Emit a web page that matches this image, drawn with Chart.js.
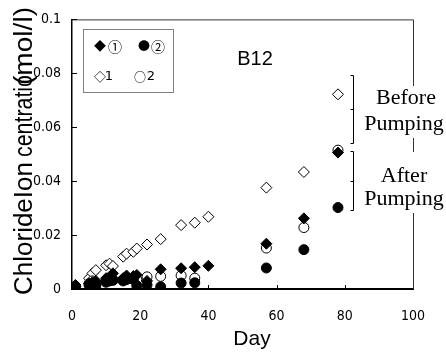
<!DOCTYPE html>
<html><head><meta charset="utf-8">
<script src="https://cdn.jsdelivr.net/npm/chart.js@4/dist/chart.umd.min.js"></script>
<style>html,body{margin:0;padding:0;background:#fff}#wrap{width:446px;height:356px}</style>
</head><body><div id="wrap"><canvas id="c" width="446" height="356"></canvas></div>
<script>
// ---- data ----
const daysFilledDiamond = [1,5,6,7,10,11,12,15,16,18,19,22,26,32,36,40,57,68,78];
const valsFilledDiamond = [0.0015,0.002,0.0025,0.003,0.004,0.0045,0.0058,0.004,0.005,0.0048,0.0052,0.003,0.0073,0.0077,0.0081,0.0086,0.0168,0.0262,0.0506];
const daysFilledCircle = [1,5,6,7,10,11,12,15,16,18,19,22,26,32,36,57,68,78];
const valsFilledCircle = [0.0008,0.0015,0.0018,0.0012,0.0025,0.003,0.0032,0.003,0.0035,0.0035,0.0012,0.0015,0.0008,0.0022,0.0023,0.0078,0.0146,0.0302];
const daysOpenCircle = [1,5,6,7,10,11,12,15,16,18,19,22,26,32,36,57,68,78];
const valsOpenCircle = [0.001,0.002,0.003,0.002,0.003,0.0035,0.0035,0.0035,0.004,0.004,0.0035,0.0045,0.0047,0.005,0.004,0.0152,0.0228,0.0515];
const daysOpenDiamond = [1,5,6,7,10,11,12,15,16,18,19,22,26,32,36,40,57,68,78];
const valsOpenDiamond = [0.001,0.004,0.0058,0.007,0.0088,0.0094,0.0085,0.012,0.0131,0.0138,0.015,0.0165,0.0185,0.0237,0.0246,0.0268,0.0376,0.0434,0.0722];
const xTickValues = [0,20,40,60,80,100];
const xTickLabels = ['0','20','40','60','80','100'];
const yTickValues = [0,0.02,0.04,0.06,0.08,0.1];
const yTickLabels = ['0','0.02','0.04','0.06','0.08','0.1'];
const chartTitle = 'B12';
const xTitle = 'Day';
const yTitleParts = ['ChlorideIon', 'centratio', '(mol/l)'];
const legendItems = [['◆','①'],['●','②'],['◇','1'],['○','2']];
const noteBefore = ['Before','Pumping'];
const noteAfter = ['After','Pumping'];

const pts = (d, v) => d.map((x, i) => ({x: x, y: v[i]}));
const TICKFONT = "'Liberation Sans Narrow', 'DejaVu Sans Condensed', 'Liberation Sans', sans-serif";

const extras = {
  id: 'extras',
  beforeDatasetsDraw(chart) {
    const {ctx, chartArea: a} = chart;
    const xs = chart.scales.x, ys = chart.scales.y;
    ctx.save();
    ctx.strokeStyle = '#333'; ctx.lineWidth = 1;
    ctx.beginPath();
    ctx.moveTo(a.left, a.top + 0.5); ctx.lineTo(a.right + 0.5, a.top + 0.5); ctx.lineTo(a.right + 0.5, a.bottom);
    ctx.stroke();
    ctx.strokeStyle = '#000'; ctx.lineWidth = 1;
    ctx.beginPath();
    yTickValues.forEach(v => { if (v === 0) return; const y = Math.round(ys.getPixelForValue(v)) + 0.5; ctx.moveTo(a.left, y); ctx.lineTo(a.left + 5, y); });
    xTickValues.forEach(v => { if (v === 0 || v === 100) return; const x = Math.round(xs.getPixelForValue(v)) + 0.5; ctx.moveTo(x, a.bottom); ctx.lineTo(x, a.bottom - 4); });
    ctx.stroke();
    ctx.restore();
  },
  afterDraw(chart) {
    const {ctx} = chart;
    ctx.save();
    ctx.fillStyle = '#fff';
    ctx.fillRect(358, 86, 88, 52);
    ctx.fillRect(358, 152, 88, 61);
    ctx.strokeStyle = '#000'; ctx.lineWidth = 1;
    const bracket = (y0, y1) => {
      const x = 353.5, m = (y0 + y1) / 2;
      ctx.beginPath();
      ctx.moveTo(x - 3, y0 + 0.5); ctx.lineTo(x, y0 + 0.5); ctx.lineTo(x, y1 + 0.5); ctx.lineTo(x - 3, y1 + 0.5);
      ctx.moveTo(x - 3, Math.round(m) + 0.5); ctx.lineTo(x, Math.round(m) + 0.5);
      ctx.stroke();
    };
    bracket(75, 143);
    bracket(151, 210);
    ctx.fillStyle = '#000';
    ctx.font = "22px 'Liberation Serif', 'DejaVu Serif', serif";
    ctx.textAlign = 'center'; ctx.textBaseline = 'alphabetic';
    ctx.fillText(noteBefore[0], 406, 104);
    ctx.fillText(noteBefore[1], 404, 130);
    ctx.fillText(noteAfter[0], 404, 182);
    ctx.fillText(noteAfter[1], 404, 205);
    ctx.strokeStyle = '#808080'; ctx.lineWidth = 1;
    ctx.strokeRect(83.5, 29.5, 90, 63);
    ctx.fillStyle = '#000';
    ctx.textBaseline = 'middle';
    const sym = "12px 'Noto Sans CJK JP', 'DejaVu Sans', sans-serif";
    const pos = [[100, 46.5, 115], [144, 46.5, 158], [100, 77, 109], [140, 77, 151]];
    legendItems.forEach((it, i) => {
      const p = pos[i];
      ctx.font = sym; ctx.textAlign = 'center';
      ctx.fillText(it[0], p[0], p[1]);
      ctx.font = i < 2 ? "14px 'Noto Sans CJK JP', 'DejaVu Sans', sans-serif" : "13px 'DejaVu Sans', sans-serif";
      ctx.fillText(it[1], p[2], p[1]);
    });
    ctx.font = "20px 'Liberation Sans', Arial, sans-serif";
    ctx.textAlign = 'center'; ctx.textBaseline = 'alphabetic';
    ctx.fillText(chartTitle, 255, 65);
    ctx.font = "21px 'Liberation Sans', Arial, sans-serif";
    ctx.fillText(xTitle, 252, 345);
    ctx.translate(32, 295);
    ctx.rotate(-Math.PI / 2);
    ctx.font = "26px 'Liberation Sans', Arial, sans-serif";
    ctx.textAlign = 'left';
    ctx.fillText(yTitleParts[0], 0, 0);
    const fitText = (t, start, len) => {
      const w = ctx.measureText(t).width;
      ctx.save(); ctx.translate(start, 0); ctx.scale(len / w, 1); ctx.fillText(t, 0, 0); ctx.restore();
    };
    fitText(yTitleParts[1], 138, 82);
    fitText(yTitleParts[2], 210, 78);
    ctx.restore();
  }
};

new Chart(document.getElementById('c'), {
  type: 'scatter',
  data: {
    datasets: [
      {label: '①', data: pts(daysFilledDiamond, valsFilledDiamond), pointStyle: 'rectRot', pointRadius: 5.5, backgroundColor: '#000', borderColor: '#000', borderWidth: 1},
      {label: '②', data: pts(daysFilledCircle, valsFilledCircle), pointStyle: 'circle', pointRadius: 5, backgroundColor: '#000', borderColor: '#000', borderWidth: 1},
      {label: '2', data: pts(daysOpenCircle, valsOpenCircle), pointStyle: 'circle', pointRadius: 5, backgroundColor: '#fff', borderColor: '#000', borderWidth: 1},
      {label: '1', data: pts(daysOpenDiamond, valsOpenDiamond), pointStyle: 'rectRot', pointRadius: 5.5, backgroundColor: '#fff', borderColor: '#000', borderWidth: 1}
    ]
  },
  options: {
    responsive: false, animation: false, devicePixelRatio: 1,
    layout: {padding: {left: 0, top: 17, right: 33, bottom: 0}},
    plugins: {legend: {display: false}, tooltip: {enabled: false}},
    elements: {point: {hoverRadius: 5}},
    scales: {
      x: {
        type: 'linear', min: 0, max: 100,
        afterBuildTicks: s => { s.ticks = xTickValues.map(v => ({value: v})); },
        afterFit: s => { s.height = 67; },
        grid: {display: false, drawTicks: false},
        border: {display: true, color: '#000', width: 2},
        ticks: {padding: 19, color: '#000', font: {family: TICKFONT, size: 14}, maxRotation: 0, autoSkip: false,
          callback: (v, i) => xTickLabels[i]}
      },
      y: {
        type: 'linear', min: 0, max: 0.1,
        afterBuildTicks: s => { s.ticks = yTickValues.map(v => ({value: v})); },
        afterFit: s => { s.width = 72; },
        grid: {display: false, drawTicks: false},
        border: {display: true, color: '#000', width: 1.5},
        ticks: {padding: 11, color: '#000', font: {family: TICKFONT, size: 14}, autoSkip: false,
          callback: (v, i) => yTickLabels[i]}
      }
    }
  },
  plugins: [extras]
});
</script></body></html>
